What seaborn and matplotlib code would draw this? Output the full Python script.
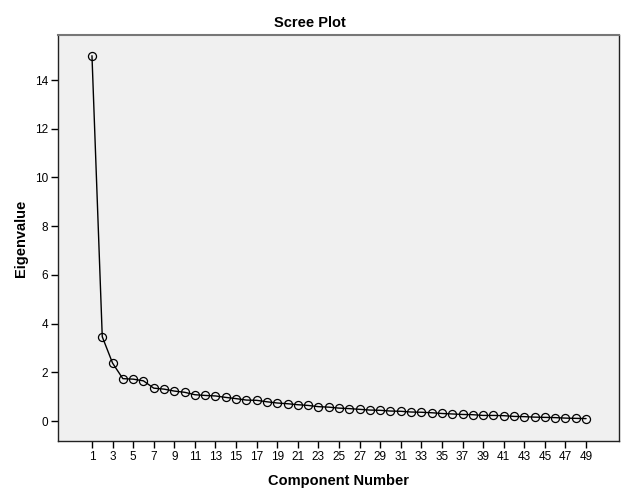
import numpy as np
import pandas as pd
import matplotlib
matplotlib.use("Agg")
import matplotlib.pyplot as plt
import seaborn as sns

# eigenvalues
components = list(range(1, 50))
eigenvalues = [15.0, 3.46, 2.38, 1.74, 1.72, 1.65, 1.35, 1.31, 1.23, 1.18,
               1.08, 1.05, 1.03, 0.97, 0.92, 0.86, 0.85, 0.79, 0.74, 0.71,
               0.67, 0.64, 0.59, 0.57, 0.53, 0.51, 0.48, 0.45, 0.44, 0.41,
               0.40, 0.37, 0.36, 0.34, 0.31, 0.29, 0.27, 0.26, 0.23, 0.23,
               0.22, 0.19, 0.18, 0.16, 0.15, 0.14, 0.12, 0.11, 0.10]
x_ticks = list(range(1, 50, 2))
y_ticks = list(range(0, 15, 2))

df = pd.DataFrame({"Component Number": components, "Eigenvalue": eigenvalues})

sns.set_style("white")
plt.rcParams['font.family'] = ['Liberation Sans', 'DejaVu Sans']
plt.rcParams['text.color'] = 'black'
plt.rcParams['axes.labelcolor'] = 'black'
plt.rcParams['xtick.color'] = 'black'
plt.rcParams['ytick.color'] = 'black'

fig = plt.figure(figsize=(6.26, 5.01), dpi=100)
ax = fig.add_axes([58/626, 60/501, 561/626, 406/501])
ax.set_facecolor("#f0f0f0")

sns.lineplot(data=df, x="Component Number", y="Eigenvalue", ax=ax,
             color="black", linewidth=1.0, marker="o", markersize=5.8,
             markerfacecolor="none", markeredgecolor="black", markeredgewidth=0.9)

ax.set_xlim(-2.3, 52.2)
ax.set_ylim(-0.82, 15.85)
ax.set_xticks(x_ticks)
ax.set_yticks(y_ticks)
ax.tick_params(axis="both", direction="out", length=5, width=1, color="black",
               labelsize=8.5, pad=2, bottom=True, left=True)

for side in ["left", "bottom", "right"]:
    ax.spines[side].set_color("#222222")
    ax.spines[side].set_linewidth(1)
ax.spines["top"].set_color("#777777")
ax.spines["top"].set_linewidth(1.5)

ax.set_xlabel("Component Number", fontsize=10.5, fontweight="bold", labelpad=8)
ax.set_ylabel("Eigenvalue", fontsize=10.5, fontweight="bold", labelpad=5)
fig.text(0.495, 0.955, "Scree Plot", ha="center", va="center",
         fontsize=10.5, fontweight="bold")

plt.savefig("out.png", dpi=100)
